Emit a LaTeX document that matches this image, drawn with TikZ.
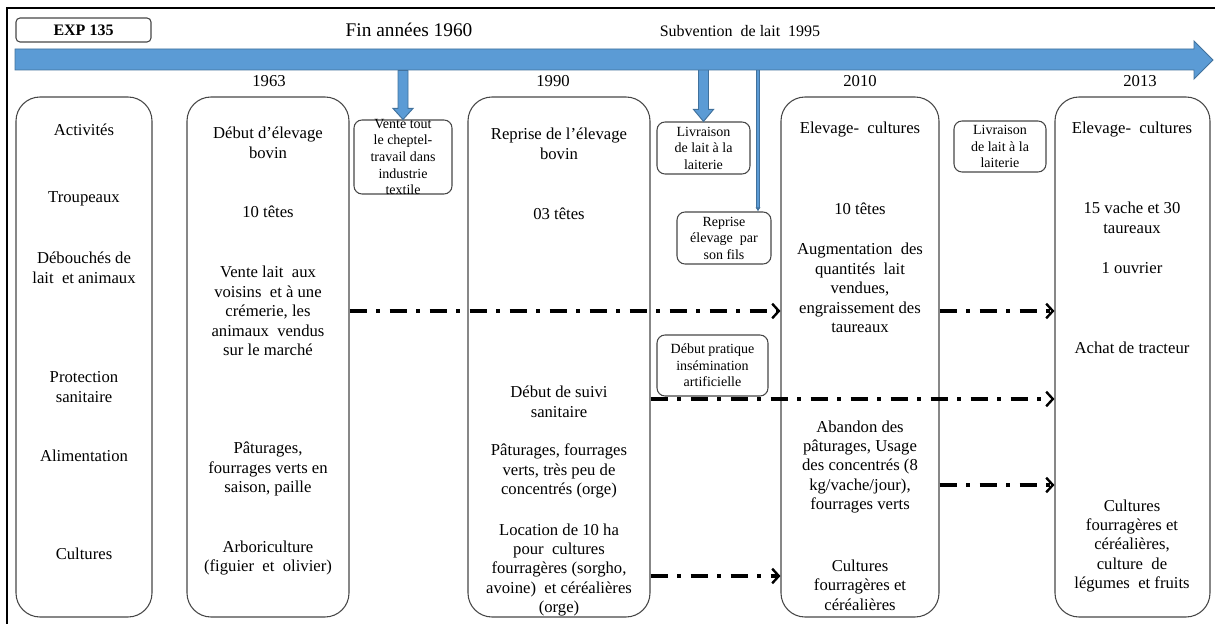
\documentclass[tikz,border=0pt]{standalone}
\usepackage{fontspec}
\setmainfont{Liberation Serif}
\usepackage{tikz}
\usetikzlibrary{arrows.meta,fit}
\definecolor{BarBlue}{RGB}{91,155,213}
\definecolor{BarEdge}{RGB}{65,113,156}
\definecolor{BoxGray}{RGB}{70,70,70}

\begin{document}
\begin{tikzpicture}[x=0.75pt,y=-0.75pt,>=Latex,
    colbox/.style={draw=BoxGray,line width=0.8pt,rounded corners=18pt,inner sep=0pt},
    evtbox/.style={draw=BoxGray,line width=0.8pt,rounded corners=6pt,inner sep=0pt},
    evt/.style={align=center,inner sep=0pt,font=\fontsize{10.5}{12.4}\selectfont},
    txt/.style={align=center,font=\fontsize{12.5}{14.6}\selectfont},
    yr/.style={font=\fontsize{12.5}{14}\selectfont},
    flow/.style={line width=2.6pt,dash pattern=on 13pt off 7pt on 3pt off 7pt,-{Straight Barb[length=5pt,width=11pt,line width=1.8pt]}},
    blockarr/.style={fill=BarBlue,draw=BarEdge,line width=0.7pt,line join=miter},
    thinarr/.style={draw=BarEdge,line width=0.6pt,double=BarBlue,double distance=1.6pt,-{Latex[length=3pt,width=4pt]}}]
  \useasboundingbox (0,0) rectangle (1215,624);
  \draw[line width=1.5pt] (7,624) -- (7,8) -- (1215,8);

  % en-tete
  \node[evtbox,rounded corners=3pt,fit={(16,18) (151,42)}] (exp) {};
  \node[font=\bfseries\fontsize{12}{14}\selectfont] (expt) at (exp) {EXP 135};
  \node[font=\fontsize{14.5}{16}\selectfont] (fin60) at (409,30) {Fin années 1960};
  \node[font=\fontsize{12}{14}\selectfont] (sub95) at (740,31) {Subvention \ de lait \ 1995};

  % colonnes
  \node[colbox,fit={(16,97) (152,617)}] (col1) {};
  \node[colbox,fit={(187,97) (349,617)}] (col2) {};
  \node[colbox,fit={(468,97) (650,617)}] (col3) {};
  \node[colbox,fit={(781,97) (939,617)}] (col4) {};
  \node[colbox,fit={(1055,97) (1210,617)}] (col5) {};

  \node[yr] (y63) at (269,81) {1963};
  \node[yr] (y90) at (553,81) {1990};
  \node[yr] (y10) at (860,81) {2010};
  \node[yr] (y13) at (1140,81) {2013};

  % rubriques
  \node[txt] (hAct) at (84,130) {Activités};
  \node[txt] (hTrp) at (84,199) {Troupeaux};
  \node[txt] (hDeb) at (84,268) {Débouchés de\\lait \ et animaux};
  \node[txt] (hPro) at (84,387) {Protection\\sanitaire};
  \node[txt] (hAli) at (84,456) {Alimentation};
  \node[txt] (hCul) at (84,554) {Cultures};

  % 1963
  \node[txt] (a63) at (268,143) {Début d’élevage\\bovin};
  \node[txt] (t63) at (268,212) {10 têtes};
  \node[txt] (d63) at (268,311) {Vente lait \ aux\\voisins \ et à une\\crémerie, les\\animaux \ vendus\\sur le marché};
  \node[txt] (l63) at (268,469) {Pâturages,\\fourrages verts en\\saison, paille};
  \node[txt] (c63) at (268,558) {Arboriculture\\(figuier \ et \ olivier)};

  % 1990
  \node[txt] (a90) at (559,144) {Reprise de l’élevage\\bovin};
  \node[txt] (t90) at (559,214) {03 têtes};
  \node[txt] (p90) at (559,402) {Début de suivi\\sanitaire};
  \node[txt] (l90) at (559,471) {Pâturages, fourrages\\verts, très peu de\\concentrés (orge)};
  \node[txt] (c90) at (559,570) {Location de 10 ha\\pour \ cultures\\fourragères (sorgho,\\avoine) \ et céréalières\\(orge)};

  % 2010
  \node[txt] (a10) at (860,130) {Elevage- \ cultures};
  \node[txt] (t10) at (860,209) {10 têtes};
  \node[txt] (d10) at (860,288) {Augmentation \ des\\quantités \ lait\\vendues,\\engraissement des\\taureaux};
  \node[txt] (l10) at (860,467) {Abandon des\\pâturages, Usage\\des concentrés (8\\kg/vache/jour),\\fourrages verts};
  \node[txt] (c10) at (860,585) {Cultures\\fourragères et\\céréalières};

  % 2013
  \node[txt] (a13) at (1132,130) {Elevage- \ cultures};
  \node[txt] (t13) at (1132,218) {15 vache et 30\\taureaux};
  \node[txt] (o13) at (1132,268) {1 ouvrier};
  \node[txt] (m13) at (1132,348) {Achat de tracteur};
  \node[txt] (c13) at (1132,546) {Cultures\\fourragères et\\céréalières,\\culture \ de\\légumes \ et fruits};

  % evenements
  \node[evtbox,fit={(354,120) (452,194)}] (vente) {};
  \node[evt] (ventet) at (vente) {Vente tout\\le cheptel-\\travail dans\\industrie\\textile};
  \node[evtbox,fit={(657,122) (750,174)}] (livr1) {};
  \node[evt] (livr1t) at (livr1) {Livraison\\de lait à la\\laiterie};
  \node[evtbox,fit={(677,212) (771,264)}] (fils) {};
  \node[evt] (filst) at (fils) {Reprise\\élevage \ par\\son fils};
  \node[evtbox,fit={(657,335) (768,396)}] (insem) {};
  \node[evt] (insemt) at (insem) {Début pratique\\insémination\\artificielle};
  \node[evtbox,fit={(954,121) (1046,172)}] (livr2) {};
  \node[evt] (livr2t) at (livr2) {Livraison\\de lait à la\\laiterie};

  % fleches vers les evenements
  \draw[blockarr] (vente.north) -- ++(-10,-11) -- ++(5,0) -- ++(0,-38) -- ++(10,0) -- ++(0,38) -- ++(5,0) -- cycle;
  \draw[blockarr] (livr1.north) -- ++(-10,-12) -- ++(5,0) -- ++(0,-40) -- ++(10,0) -- ++(0,40) -- ++(5,0) -- cycle;
  \coordinate (s95) at (758,70);
  \draw[thinarr] (s95) -- (s95 |- fils.north);

  % axe du temps
  \draw[blockarr] (15,49) -- (1194,49) -- (1194,41) -- (1213,60) -- (1194,79) -- (1194,70) -- (15,70) -- cycle;

  % continuites
  \coordinate (r1) at (0,311);
  \coordinate (r2) at (0,399);
  \coordinate (r3) at (0,485);
  \coordinate (r4) at (0,576);
  \draw[flow] (col2.east |- r1) -- (col4.west |- r1);
  \draw[flow] (col4.east |- r1) -- (col5.west |- r1);
  \draw[flow] (col3.east |- r2) -- (col5.west |- r2);
  \draw[flow] (col4.east |- r3) -- (col5.west |- r3);
  \draw[flow] (col3.east |- r4) -- (col4.west |- r4);
\end{tikzpicture}
\end{document}
